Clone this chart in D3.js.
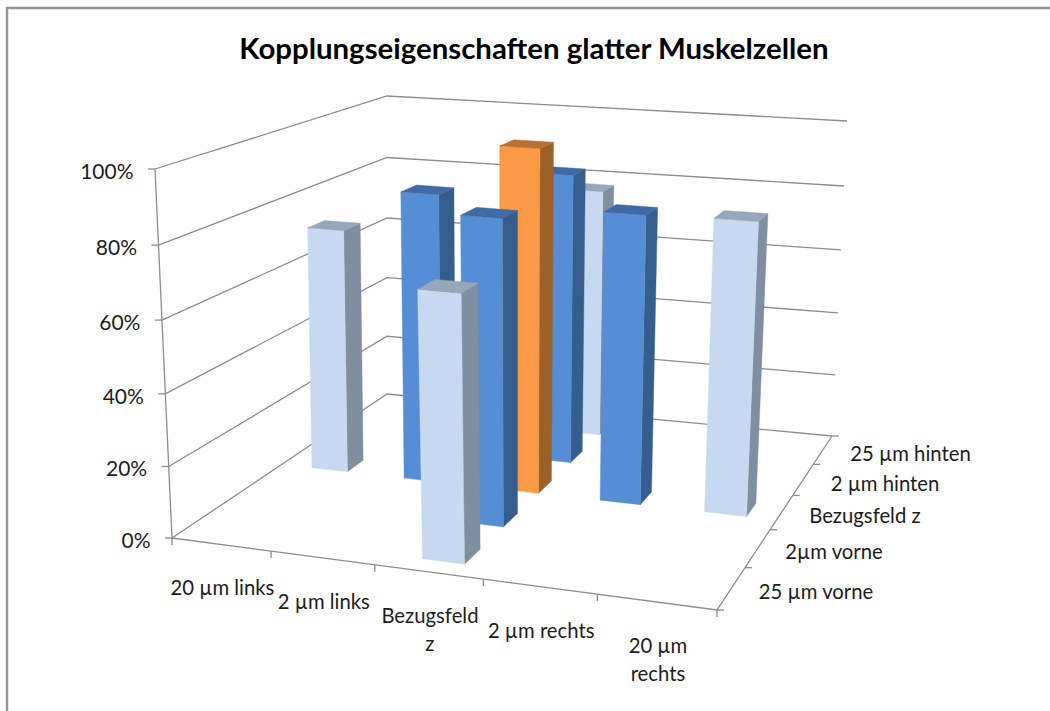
<!DOCTYPE html>
<html lang="de">
<head>
<meta charset="utf-8">
<title>Kopplungseigenschaften glatter Muskelzellen</title>
<script src="https://cdn.jsdelivr.net/npm/d3@7/dist/d3.min.js"></script>
<style>
  html, body { margin: 0; padding: 0; background: #fff; }
  svg { display: block; }
  text { font-family: Lato, "Noto Sans", sans-serif; fill: #1c1c1c; }
</style>
</head>
<body>
<svg id="chart" width="1050" height="711"></svg>
<script>
// Categories along the two floor axes and the percentage ticks
const columns = ["20 µm links", "2 µm links", "Bezugsfeld z", "2 µm rechts", "20 µm rechts"];
const rows = ["25 µm vorne", "2µm vorne", "Bezugsfeld z", "2 µm hinten", "25 µm hinten"];
const valueTicks = [0, 0.2, 0.4, 0.6, 0.8, 1];

// One entry per bar: the bars form a cross through the reference field
const barColumn = ["Bezugsfeld z", "Bezugsfeld z", "20 µm links", "2 µm links", "Bezugsfeld z", "2 µm rechts", "20 µm rechts", "Bezugsfeld z", "Bezugsfeld z"];
const barRow = ["25 µm hinten", "2 µm hinten", "Bezugsfeld z", "Bezugsfeld z", "Bezugsfeld z", "Bezugsfeld z", "Bezugsfeld z", "2µm vorne", "25 µm vorne"];
const barValue = [0.775, 0.875, 0.725, 0.85, 1.00, 0.835, 0.84, 0.86, 0.725];
const barTone = ["far", "near", "far", "near", "centre", "near", "far", "near", "far"];

const shades = {
  far:    { front: "#C6D9F1", side: "#7F8EA1", top: "#98A6BA" },
  near:   { front: "#558ED5", side: "#355D8D", top: "#3E6BA3" },
  centre: { front: "#FA9A46", side: "#9C6029", top: "#B87134" }
};

// Band scales on the unit floor square, linear scale for height
const x = d3.scaleBand().domain(columns).range([0, 1]).paddingInner(0.61).paddingOuter(0.305).align(0.55);
const z = d3.scaleBand().domain(rows).range([0, 1]).paddingInner(0.61).paddingOuter(0.305).align(0.45);
const edge = d3.scaleLinear().domain([0, 5]).range([0, 1]);

// Heights foreshorten slightly toward the top of the box
const foreshorten = 0.04;
const h = t => t / (1 + foreshorten * (1 - t));

// Perspective map from the unit square to a quadrilateral
function quadMap(a, b, c, d) {
  const dx1 = b[0] - c[0], dx2 = d[0] - c[0], sx = a[0] - b[0] + c[0] - d[0];
  const dy1 = b[1] - c[1], dy2 = d[1] - c[1], sy = a[1] - b[1] + c[1] - d[1];
  const det = dx1 * dy2 - dx2 * dy1;
  const g = (sx * dy2 - dx2 * sy) / det;
  const k = (dx1 * sy - sx * dy1) / det;
  return (u, v) => {
    const w = g * u + k * v + 1;
    return [
      ((b[0] - a[0] + g * b[0]) * u + (d[0] - a[0] + k * d[0]) * v + a[0]) / w,
      ((b[1] - a[1] + g * b[1]) * u + (d[1] - a[1] + k * d[1]) * v + a[1]) / w
    ];
  };
}

// Floor and ceiling of the chart box: front-left, front-right, back-right, back-left
const floorAt = quadMap([172, 538], [717, 610], [832, 436], [387, 394]);
const ceilAt = quadMap([155, 169], [733, 215], [847, 121], [387, 96]);

function project(u, v, t) {
  const f = floorAt(u, v), c = ceilAt(u, v), s = h(t);
  return [f[0] + (c[0] - f[0]) * s, f[1] + (c[1] - f[1]) * s];
}

const svg = d3.select("#chart");
const polyline = d3.line();

// Frame along the top and left of the picture
svg.append("path").attr("d", polyline([[7, 711], [7, 8], [1050, 8]]))
  .attr("fill", "none").attr("stroke", "#969696").attr("stroke-width", 2.5);

// Title
svg.append("text").attr("x", 534).attr("y", 59).attr("text-anchor", "middle")
  .attr("font-size", 29.4).attr("font-weight", 700).style("fill", "#000")
  .text("Kopplungseigenschaften glatter Muskelzellen");

// Grid lines on the left and back walls
const axisColor = "#8c8c8c";
const grid = svg.append("g").attr("fill", "none").attr("stroke", axisColor).attr("stroke-width", 1.3);
grid.selectAll("path.wall").data(valueTicks).join("path").attr("class", "wall")
  .attr("d", t => polyline([project(0, 0, t), project(0, 1, t), project(1, 1, t)]));

// Axis lines along the floor and up the value axis
grid.append("path").attr("d", polyline([project(0, 0, 0), project(1, 0, 0), project(1, 1, 0)]));
grid.append("path").attr("d", polyline([project(0, 0, 0), project(0, 0, 1)]));

// Tick marks
grid.selectAll("path.vtick").data(valueTicks).join("path").attr("class", "vtick")
  .attr("d", t => { const p = project(0, 0, t); return polyline([[p[0] - 7, p[1]], p]); });
grid.selectAll("path.xtick").data(d3.range(0, 6)).join("path").attr("class", "xtick")
  .attr("d", i => { const p = project(edge(i), 0, 0); return polyline([p, [p[0], p[1] + 7]]); });
grid.selectAll("path.ztick").data(d3.range(0, 6)).join("path").attr("class", "ztick")
  .attr("d", i => { const p = project(1, edge(i), 0); return polyline([p, [p[0] + 7, p[1]]]); });

// Value axis labels
svg.append("g").attr("font-size", 21).attr("text-anchor", "end")
  .selectAll("text").data(valueTicks).join("text")
  .attr("x", t => project(0, 0, t)[0] - 21.5)
  .attr("y", t => project(0, 0, t)[1] + 10)
  .text(d3.format(".0%"));

// Column labels, wrapped the way the long ones break
const columnLines = [["20 µm links"], ["2 µm links"], ["Bezugsfeld", "z"], ["2 µm rechts"], ["20 µm", "rechts"]];
const columnGroup = svg.append("g").attr("font-size", 20.3).attr("text-anchor", "middle");
columns.forEach((c, i) => {
  const p = project(edge(i + 0.5), 0, 0);
  columnGroup.selectAll(null).data(columnLines[i]).join("text")
    .attr("x", p[0] + 1.5)
    .attr("y", (line, n) => p[1] + 51 + n * 28.5)
    .text(line => line);
});

// Row labels beside the right floor edge
svg.append("g").attr("font-size", 20.3)
  .selectAll("text").data(rows).join("text")
  .attr("x", (r, i) => project(1, edge(i + 0.5), 0)[0] + 27.5)
  .attr("y", (r, i) => project(1, edge(i + 0.5), 0)[1] + 11)
  .text(r => r);

// Bars, painted from the back of the box to the front
const bars = barValue.map((value, i) => ({ value, column: barColumn[i], row: barRow[i], tone: barTone[i] }))
  .sort((a, b) => d3.descending(rows.indexOf(a.row), rows.indexOf(b.row)) || d3.ascending(columns.indexOf(a.column), columns.indexOf(b.column)));

const barGroups = svg.append("g").selectAll("g").data(bars).join("g");

function faces(d) {
  const u0 = x(d.column), u1 = u0 + x.bandwidth();
  const v0 = z(d.row), v1 = v0 + z.bandwidth();
  return [
    { face: "side", points: [project(u1, v0, 0), project(u1, v1, 0), project(u1, v1, d.value), project(u1, v0, d.value)] },
    { face: "front", points: [project(u0, v0, 0), project(u1, v0, 0), project(u1, v0, d.value), project(u0, v0, d.value)] },
    { face: "top", points: [project(u0, v0, d.value), project(u1, v0, d.value), project(u1, v1, d.value), project(u0, v1, d.value)] }
  ].map(f => ({ ...f, tone: d.tone }));
}

barGroups.selectAll("path").data(faces).join("path")
  .attr("d", f => polyline(f.points) + "Z")
  .attr("fill", f => shades[f.tone][f.face])
  .attr("stroke", f => shades[f.tone][f.face])
  .attr("stroke-width", 0.4);
</script>
</body>
</html>
